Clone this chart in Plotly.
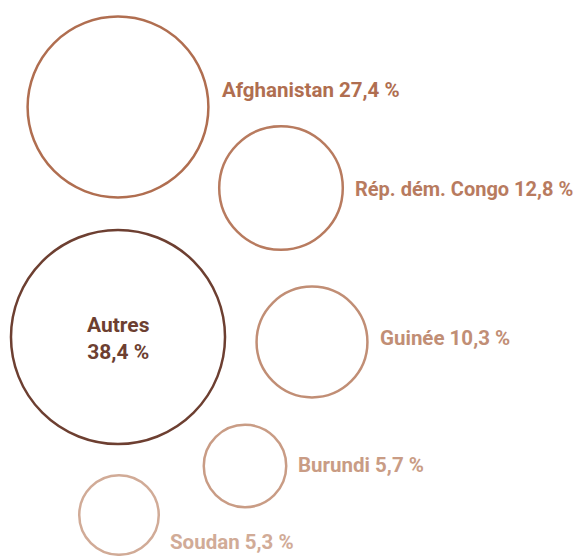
import math
import plotly.graph_objects as go

countries = ["Afghanistan", "Rép. dém. Congo", "Autres", "Guinée", "Burundi", "Soudan"]
shares = [27.4, 12.8, 38.4, 10.3, 5.7, 5.3]
labels = ["Afghanistan 27,4 %", "Rép. dém. Congo 12,8 %", "Autres<br>38,4 %",
          "Guinée 10,3 %", "Burundi 5,7 %", "Soudan 5,3 %"]

# layout (positions in pixel-like plot coordinates)
centers = [(118, 107), (281, 188), (118, 337), (312, 342), (245, 466), (119, 515)]
label_pos = [(220, 90), (353, 189), (118, 338), (378, 338), (296, 465), (168, 542)]
label_size = [20.5, 20, 21, 20.5, 20.5, 20.5]
colors = ["#b06e50", "#b87b5f", "#6d3f31", "#c18e75", "#c99c85", "#d1ab97"]
SCALE = 17.27  # px per sqrt(percent)
FONT = "Roboto, Liberation Sans, sans-serif"

fig = go.Figure()
fig.add_trace(go.Scatter(x=[0, 578], y=[0, 556], mode="markers",
                         marker=dict(opacity=0), hoverinfo="skip", showlegend=False))

for name, v, (cx, cy), col, lab, (lx, ly), fs in zip(countries, shares, centers, colors,
                                                     labels, label_pos, label_size):
    r = SCALE * math.sqrt(v)
    fig.add_shape(type="circle", xref="x", yref="y",
                  x0=cx - r, x1=cx + r, y0=cy - r, y1=cy + r,
                  line=dict(color=col, width=2.5), fillcolor="rgba(0,0,0,0)")
    anchor = "center" if name == "Autres" else "left"
    fig.add_annotation(x=lx, y=ly, text=lab, showarrow=False, xanchor=anchor, yanchor="middle",
                       align="center",
                       font=dict(family=FONT, size=fs, color=col, weight="bold"))

fig.update_layout(width=578, height=556, margin=dict(l=0, r=0, t=0, b=0),
                  paper_bgcolor="white", plot_bgcolor="white", showlegend=False)
fig.update_xaxes(range=[0, 578], visible=False, fixedrange=True)
fig.update_yaxes(range=[556, 0], visible=False, fixedrange=True)
fig.write_html("out.html", config={"displayModeBar": False},
               post_script="document.body.style.margin='0';")
